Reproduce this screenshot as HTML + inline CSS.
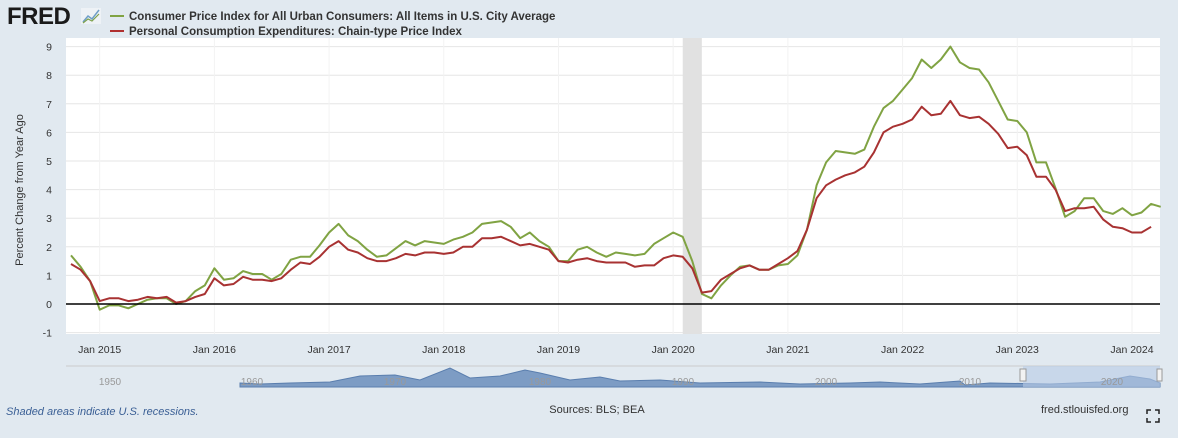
<!DOCTYPE html>
<html><head><meta charset="utf-8"><style>
body{margin:0;width:1178px;height:438px;background:#e1e9f0;font-family:"Liberation Sans",sans-serif;overflow:hidden}
svg{display:block}
</style></head><body>
<svg id="c" width="1178" height="438">
<text x="7" y="24" font-size="24" font-weight="bold" fill="#1a1a1a" letter-spacing="-0.5">FRED</text>
<g><rect x="81" y="8" width="20" height="16" fill="#eef2f6"/><polyline points="83,22 88,16 92,19 99,10" fill="none" stroke="#6e9ec7" stroke-width="1.5"/><polyline points="83,23 88,19 92,21 99,14" fill="none" stroke="#7ea24e" stroke-width="1.2"/></g>
<line x1="110" y1="16" x2="124" y2="16" stroke="#80a343" stroke-width="2"/>
<text x="129" y="20" font-size="11.5" font-weight="bold" fill="#333">Consumer Price Index for All Urban Consumers: All Items in U.S. City Average</text>
<line x1="110" y1="31" x2="124" y2="31" stroke="#b03030" stroke-width="2"/>
<text x="129" y="35" font-size="11.5" font-weight="bold" fill="#333">Personal Consumption Expenditures: Chain-type Price Index</text>
<rect x="66" y="38" width="1094" height="296" fill="#fff"/>
<g id="grid"></g><g id="rec"></g><g id="series"></g><g id="axes"></g>
<text transform="translate(23,190) rotate(-90)" text-anchor="middle" font-size="11" fill="#333">Percent Change from Year Ago</text>
<g>
<line x1="66" y1="366" x2="1160" y2="366" stroke="#ccc"/>
<path d="M240,383 L260,384 L290,383 L330,382 L360,376 L395,375 L420,380 L450,368 L470,378 L500,376 L525,370 L540,373 L570,380 L600,377 L620,381 L660,380 L700,383 L760,382 L800,384 L850,383 L880,382 L920,384 L960,381 L965,385 L990,383 L1050,384 L1100,382 L1130,376 L1150,379 L1160,383 L1160,387 L240,387 Z" fill="#7d9cc4" stroke="#5a7eae" stroke-width="1"/>
<rect x="1023" y="366" width="137" height="21" fill="#b8cbe6" fill-opacity="0.6"/>
<rect x="1020" y="369" width="6" height="12" fill="#f2f2f2" stroke="#999"/>
<rect x="1157" y="369" width="5" height="12" fill="#f2f2f2" stroke="#999"/>
<g font-size="10" fill="#999" text-anchor="middle"><text x="110" y="385">1950</text><text x="252" y="385">1960</text><text x="395" y="385">1970</text><text x="540" y="385">1980</text><text x="683" y="385">1990</text><text x="826" y="385">2000</text><text x="970" y="385">2010</text><text x="1112" y="385">2020</text></g>
</g>
<text x="6" y="415" font-size="11" font-style="italic" fill="#3a5f95">Shaded areas indicate U.S. recessions.</text>
<text x="597" y="413" font-size="11" fill="#333" text-anchor="middle">Sources: BLS; BEA</text>
<text x="1041" y="413" font-size="11" fill="#333">fred.stlouisfed.org</text>
<g stroke="#222" stroke-width="1.5" fill="none"><path d="M1147,414 v-4 h4 M1155,410 h4 v4 M1159,418 v4 h-4 M1151,422 h-4 v-4"/></g>
</svg>
<script>
const cpi=[1.7,1.3,0.8,
-0.2,-0.05,-0.05,-0.15,0.0,0.15,0.2,0.2,0.0,0.1,0.45,0.65,
1.25,0.85,0.9,1.15,1.05,1.05,0.85,1.05,1.55,1.65,1.65,2.05,
2.5,2.8,2.4,2.2,1.9,1.65,1.7,1.95,2.2,2.05,2.2,2.15,
2.1,2.25,2.35,2.5,2.8,2.85,2.9,2.7,2.3,2.5,2.2,2.0,
1.5,1.5,1.9,2.0,1.8,1.65,1.8,1.75,1.7,1.75,2.1,2.3,
2.5,2.35,1.5,0.35,0.2,0.65,1.0,1.3,1.35,1.2,1.2,1.35,
1.4,1.7,2.6,4.15,4.95,5.35,5.3,5.25,5.4,6.2,6.85,7.1,
7.5,7.9,8.55,8.25,8.55,9.0,8.45,8.25,8.2,7.75,7.1,6.45,
6.4,6.0,4.95,4.95,4.05,3.05,3.25,3.7,3.7,3.25,3.15,3.35,
3.1,3.2,3.5,3.4];
const pce=[1.4,1.2,0.8,
0.1,0.2,0.2,0.1,0.15,0.25,0.2,0.25,0.05,0.1,0.25,0.35,
0.9,0.65,0.7,0.95,0.85,0.85,0.8,0.9,1.2,1.45,1.4,1.65,
2.0,2.2,1.9,1.8,1.6,1.5,1.5,1.6,1.75,1.7,1.8,1.8,
1.75,1.8,2.0,2.0,2.3,2.3,2.35,2.2,2.05,2.1,2.0,1.9,
1.5,1.45,1.55,1.6,1.5,1.45,1.45,1.45,1.3,1.35,1.35,1.6,
1.7,1.65,1.25,0.4,0.45,0.85,1.05,1.25,1.35,1.2,1.2,1.4,
1.6,1.85,2.6,3.7,4.15,4.35,4.5,4.6,4.8,5.3,6.0,6.2,
6.3,6.45,6.9,6.6,6.65,7.1,6.6,6.5,6.55,6.3,5.95,5.45,
5.5,5.2,4.45,4.45,4.0,3.25,3.35,3.35,3.4,2.95,2.7,2.65,
2.5,2.5,2.7];
const startYear=2014,startMonth=9;
const yTicks=[-1,0,1,2,3,4,5,6,7,8,9];
const xTickYears=[2015,2016,2017,2018,2019,2020,2021,2022,2023,2024];
const recession=[[2020,1],[2020,3]];
const X0=66,X1=1160,Y0=304,UNIT=28.6;
const monthsSpan=114.7/12;
const mx=i=>71+i*monthsSpan;
const dx=(y,m)=>mx((y-startYear)*12+(m-startMonth));
const yv=v=>Y0-v*UNIT;
const NS="http://www.w3.org/2000/svg";
function mk(t,a,p){const e=document.createElementNS(NS,t);for(const k in a)e.setAttribute(k,a[k]);p.appendChild(e);return e;}
const grid=document.getElementById('grid'),axes=document.getElementById('axes'),rec=document.getElementById('rec'),ser=document.getElementById('series');
yTicks.forEach(t=>{
 if(t!==0){const l=mk('line',{x1:X0,x2:X1,y1:yv(t),y2:yv(t),stroke:'#e6e6e6'},grid);
 
 }
 const tx=mk('text',{x:52,y:yv(t)+4,'font-size':10.5,fill:'#333','text-anchor':'end'},axes);tx.textContent=t;
 
 
});
xTickYears.forEach(y=>{
 const x=dx(y,0);
 const l=mk('line',{x1:x,x2:x,y1:38,y2:334,stroke:'#f2f2f2'},grid);
 
 
 const tx=mk('text',{x:x,y:353,'font-size':10.5,fill:'#333','text-anchor':'middle'},axes);tx.textContent='Jan '+y;
 
 
});
const r=mk('rect',{x:dx(recession[0][0],recession[0][1]),y:38,width:dx(recession[1][0],recession[1][1])-dx(recession[0][0],recession[0][1]),height:296,fill:'#e1e1e1'},rec);


const z=mk('line',{x1:X0,x2:X1,y1:yv(0),y2:yv(0),stroke:'#000','stroke-width':1.5},axes);


function line(arr,col,name){
 const p=mk('polyline',{points:arr.map((v,i)=>mx(i).toFixed(1)+','+yv(v).toFixed(1)).join(' '),fill:'none',stroke:col,'stroke-width':2,'stroke-linejoin':'round'},ser);
 
 
}
line(cpi,'#80a343','cpi-line');
line(pce,'#a83232','pce-line');
</script>
</body></html>
